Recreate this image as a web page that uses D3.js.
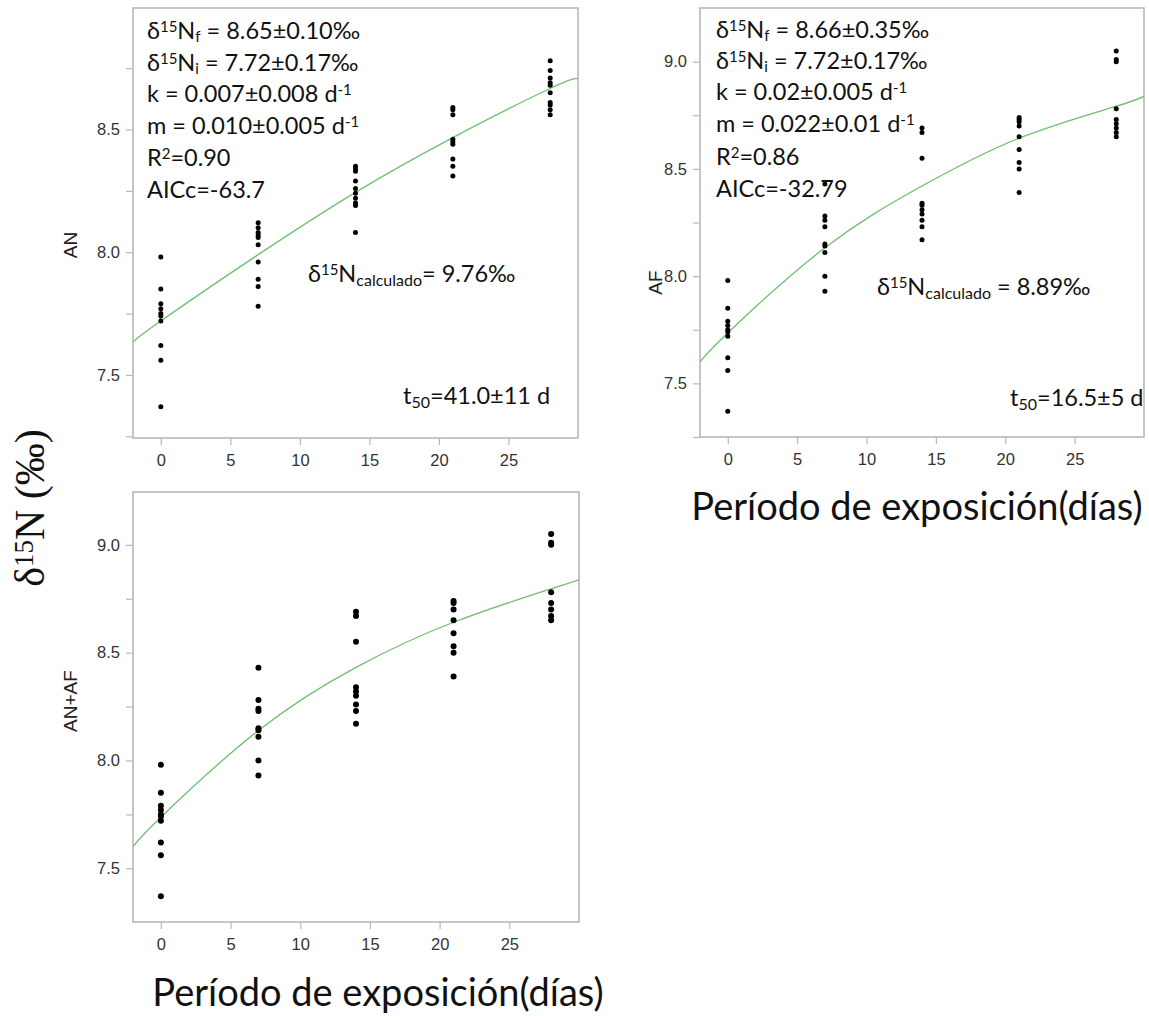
<!DOCTYPE html>
<html>
<head>
<meta charset="utf-8">
<script src="https://cdn.jsdelivr.net/npm/d3@7"></script>
<style>
  html, body { margin: 0; padding: 0; background: #fff; }
  svg { display: block; }
</style>
</head>
<body>
<svg id="chart" width="1149" height="1016"></svg>
<script>
// Sampling days (exposure period)
const days = [0, 7, 14, 21, 28];

// δ15N (‰) measured on each sampling day — AN
const anValues = [
  [7.98, 7.85, 7.79, 7.77, 7.75, 7.74, 7.72, 7.62, 7.56, 7.37],
  [8.12, 8.10, 8.08, 8.07, 8.06, 8.03, 7.96, 7.89, 7.86, 7.78],
  [8.35, 8.34, 8.33, 8.29, 8.26, 8.24, 8.22, 8.20, 8.19, 8.08],
  [8.59, 8.58, 8.56, 8.46, 8.45, 8.44, 8.38, 8.35, 8.31],
  [8.78, 8.74, 8.71, 8.69, 8.68, 8.65, 8.61, 8.60, 8.58, 8.56]
];

// δ15N (‰) — AF
const afValues = [
  [7.98, 7.85, 7.79, 7.77, 7.75, 7.74, 7.72, 7.62, 7.56, 7.37],
  [8.43, 8.28, 8.26, 8.23, 8.15, 8.14, 8.11, 8.00, 7.93],
  [8.69, 8.67, 8.55, 8.34, 8.33, 8.31, 8.29, 8.26, 8.23, 8.17],
  [8.74, 8.73, 8.72, 8.70, 8.65, 8.59, 8.53, 8.50, 8.39],
  [9.05, 9.01, 9.00, 8.78, 8.73, 8.71, 8.69, 8.67, 8.65]
];

// δ15N (‰) — AN+AF
const anafValues = [
  [7.98, 7.85, 7.79, 7.77, 7.75, 7.74, 7.72, 7.62, 7.56, 7.37],
  [8.43, 8.28, 8.24, 8.23, 8.15, 8.14, 8.11, 8.00, 7.93],
  [8.69, 8.67, 8.55, 8.34, 8.32, 8.30, 8.26, 8.23, 8.17],
  [8.74, 8.73, 8.70, 8.65, 8.59, 8.53, 8.50, 8.39],
  [9.05, 9.01, 9.00, 8.78, 8.73, 8.70, 8.67, 8.65]
];

// Fitted curves, sampled along the exposure period
const fitDays = [-2, 0, 7, 14, 21, 28, 30];
const anFit   = [7.635, 7.72, 7.99, 8.244, 8.467, 8.667, 8.708];
const afFit   = [7.60, 7.735, 8.132, 8.42, 8.643, 8.792, 8.839];
const anafFit = [7.60, 7.737, 8.139, 8.432, 8.641, 8.796, 8.839];

// Axis ticks
const xTicks = [0, 5, 10, 15, 20, 25];
const yMajorTicks = [7.5, 8.0, 8.5, 9.0];
const yMinorTicks = [7.25, 7.75, 8.25, 8.75];

// Fit statistics printed inside the panels
const anStats = {
  nf: "8.65±0.10‰", ni: "7.72±0.17‰", k: "0.007±0.008", m: "0.010±0.005",
  r2: "0.90", aicc: "-63.7", calc: "= 9.76‰", t50: "=41.0±11 d"
};
const afStats = {
  nf: "8.66±0.35‰", ni: "7.72±0.17‰", k: "0.02±0.005", m: "0.022±0.01",
  r2: "0.86", aicc: "-32.79", calc: " = 8.89‰", t50: "=16.5±5 d"
};

const svg = d3.select("#chart");
const SANS = "Lato, 'Open Sans', 'DejaVu Sans', sans-serif";
const AXF = "'Liberation Sans', Arial, sans-serif";
const FRAME = "#b8b8b8";

function panel(cfg) {
  const { left, right, top, bottom, yDomain, values, fit, label, labelX, id } = cfg;
  const x = d3.scaleLinear().domain([-2, 30]).range([left, right]);
  const y = d3.scaleLinear().domain(yDomain).range([bottom, top]);
  const g = svg.append("g");

  // clip for the fitted line
  svg.append("clipPath").attr("id", id)
    .append("rect").attr("x", left).attr("y", top)
    .attr("width", right - left).attr("height", bottom - top);

  // x axis
  const xa = g.append("g").attr("transform", `translate(0,${bottom})`)
    .call(d3.axisBottom(x).tickValues(xTicks).tickSize(7).tickPadding(9).tickFormat(d3.format("d")));
  xa.select(".domain").remove();
  xa.selectAll("line").attr("stroke", FRAME).attr("stroke-width", 1.2);
  xa.selectAll("text").attr("font-family", AXF).attr("font-size", 16.5).attr("fill", "#333");

  // y axis: labelled major ticks, unlabelled minor ticks
  const ya = g.append("g").attr("transform", `translate(${left},0)`)
    .call(d3.axisLeft(y).tickValues(yMajorTicks.filter(v => v >= yDomain[0] && v <= yDomain[1]))
      .tickSize(7).tickPadding(6).tickFormat(d3.format(".1f")));
  ya.select(".domain").remove();
  ya.selectAll("line").attr("stroke", FRAME).attr("stroke-width", 1.2);
  ya.selectAll("text").attr("font-family", AXF).attr("font-size", 16.5).attr("fill", "#333");
  const ym = g.append("g").attr("transform", `translate(${left},0)`)
    .call(d3.axisLeft(y).tickValues(yMinorTicks.filter(v => v >= yDomain[0] && v <= yDomain[1]))
      .tickSize(7).tickFormat(""));
  ym.select(".domain").remove();
  ym.selectAll("line").attr("stroke", FRAME).attr("stroke-width", 1.2);

  // frame
  g.append("rect").attr("x", left).attr("y", top)
    .attr("width", right - left).attr("height", bottom - top)
    .attr("fill", "none").attr("stroke", FRAME).attr("stroke-width", 1.6);

  // fitted curve
  const line = d3.line().x((d, i) => x(fitDays[i])).y(d => y(d)).curve(d3.curveNatural);
  g.append("path").datum(fit).attr("d", line)
    .attr("clip-path", `url(#${id})`)
    .attr("fill", "none").attr("stroke", "#6fbf6f").attr("stroke-width", 1.3);

  // points
  const pts = [];
  values.forEach((arr, i) => arr.forEach(v => pts.push({ d: days[i], v })));
  g.selectAll("circle.pt").data(pts).enter().append("circle")
    .attr("cx", p => x(p.d)).attr("cy", p => y(p.v)).attr("r", cfg.r || 2.6)
    .attr("fill", "#000");

  // panel y label
  g.append("text")
    .attr("transform", `translate(${labelX},${(top + bottom) / 2 + (cfg.labelDy || 0)}) rotate(-90)`)
    .attr("text-anchor", "middle").attr("font-family", AXF).attr("font-size", 19)
    .attr("fill", "#222").text(label);

  return { g, x, y };
}

function stats(g, s, x0, baselines, calcPos, t50Pos) {
  const fs = 23.5;
  const sub = { "baseline-shift": "-20%", "font-size": 15 };
  const sup = { "baseline-shift": "45%", "font-size": 15 };
  function t(yb) {
    return g.append("text").attr("x", x0).attr("y", yb)
      .attr("font-family", SANS).attr("font-size", fs).attr("fill", "#111");
  }
  function span(el, txt, style) {
    const ts = el.append("tspan").text(txt);
    if (style) Object.entries(style).forEach(([k, v]) => ts.attr(k, v));
    return ts;
  }
  let el = t(baselines[0]);
  span(el, "δ"); span(el, "15", sup); span(el, "N"); span(el, "f", sub); span(el, " = " + s.nf);
  el = t(baselines[1]);
  span(el, "δ"); span(el, "15", sup); span(el, "N"); span(el, "i", sub); span(el, " = " + s.ni);
  el = t(baselines[2]);
  span(el, "k = " + s.k + " d"); span(el, "-1", sup);
  el = t(baselines[3]);
  span(el, "m = " + s.m + " d"); span(el, "-1", sup);
  el = t(baselines[4]);
  span(el, "R"); span(el, "2", sup); span(el, "=" + s.r2);
  el = t(baselines[5]);
  span(el, "AICc=" + s.aicc);

  el = g.append("text").attr("x", calcPos[0]).attr("y", calcPos[1])
    .attr("font-family", SANS).attr("font-size", fs).attr("fill", "#111");
  span(el, "δ"); span(el, "15", sup); span(el, "N"); span(el, "calculado", { "baseline-shift": "-22%", "font-size": 16 });
  span(el, s.calc);

  el = g.append("text").attr("x", t50Pos[0]).attr("y", t50Pos[1])
    .attr("font-family", SANS).attr("font-size", fs).attr("fill", "#111");
  span(el, "t"); span(el, "50", { "baseline-shift": "-22%", "font-size": 16 }); span(el, s.t50);
}

const pA = panel({ id: "clipA", left: 133, right: 578, top: 8, bottom: 438,
  yDomain: [7.243, 8.995], values: anValues, fit: anFit, label: "AN", labelX: 77, labelDy: 22, r: 2.5 });
stats(pA.g, anStats, 147, [39, 71, 102, 134, 166, 198], [308, 282], [403, 404]);

const pB = panel({ id: "clipB", left: 700, right: 1144, top: 8, bottom: 437,
  yDomain: [7.25, 9.25], values: afValues, fit: afFit, label: "AF", labelX: 662, labelDy: 60, r: 2.5 });
stats(pB.g, afStats, 716, [38, 69, 100, 132, 165, 197], [877, 295], [1010, 406]);

const pC = panel({ id: "clipC", left: 133, right: 579, top: 492, bottom: 922,
  yDomain: [7.251, 9.245], values: anafValues, fit: anafFit, label: "AN+AF", labelX: 77, labelDy: -6, r: 3 });

// shared axis titles
function xTitle(cx, yb) {
  svg.append("text").attr("x", cx).attr("y", yb).attr("text-anchor", "middle")
    .attr("font-family", SANS).attr("font-size", 38).attr("fill", "#111")
    .text("Período de exposición(días)");
}
xTitle(917, 520);
xTitle(378, 1006);

const yt = svg.append("text")
  .attr("transform", "translate(44,508) rotate(-90)")
  .attr("text-anchor", "middle").attr("font-family", "'Liberation Serif', 'Times New Roman', serif")
  .attr("font-size", 42).attr("fill", "#111");
yt.append("tspan").text("δ");
yt.append("tspan").text("15").attr("baseline-shift", "40%").attr("font-size", 27);
yt.append("tspan").text("N (‰)");
</script>
</body>
</html>
